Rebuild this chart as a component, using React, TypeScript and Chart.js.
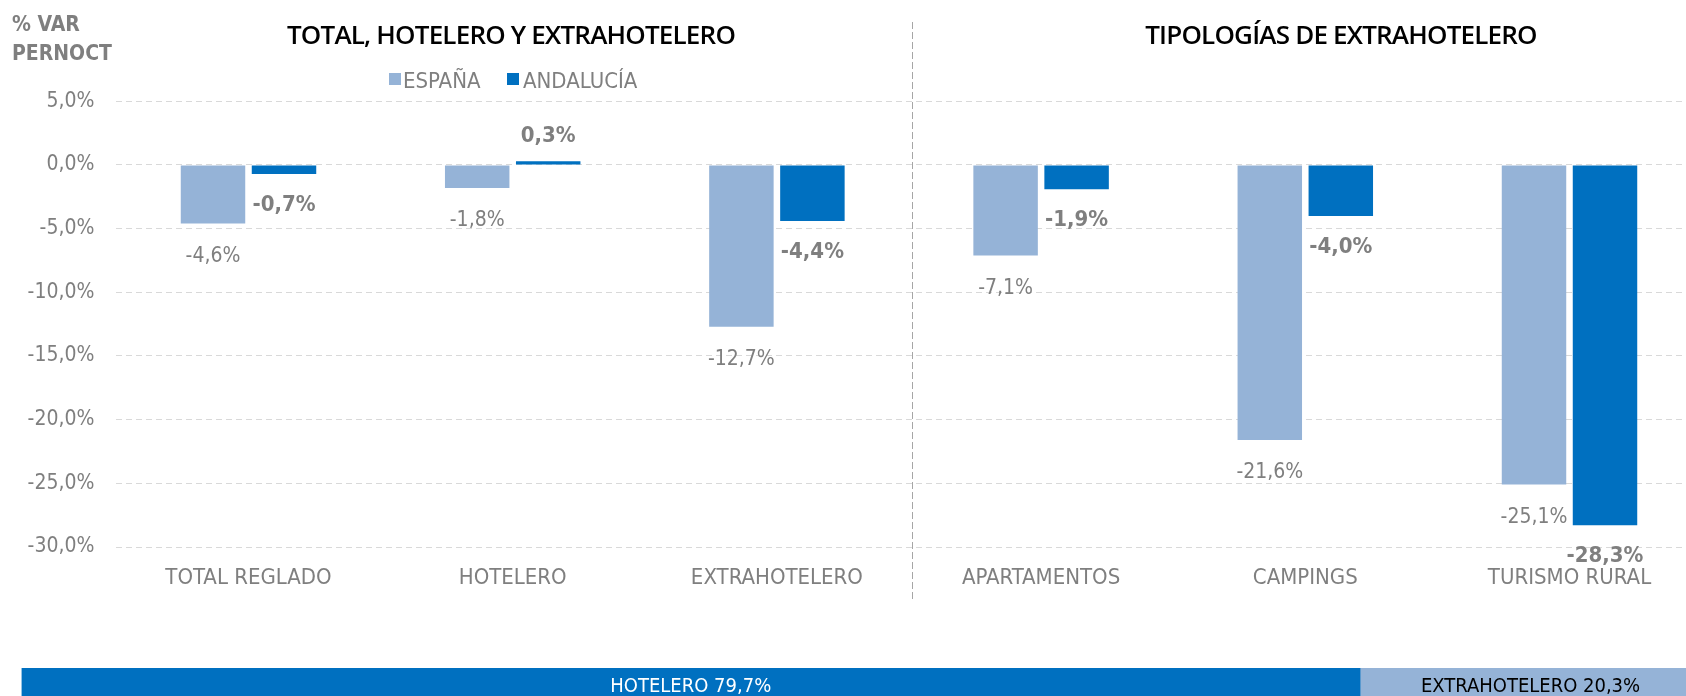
import React, { useEffect, useRef } from "react";
import { Chart, registerables } from "chart.js";

Chart.register(...registerables);

// ---------- DATA ----------
const categories = ["TOTAL REGLADO", "HOTELERO", "EXTRAHOTELERO", "APARTAMENTOS", "CAMPINGS", "TURISMO RURAL"];
const seriesNames = ["ESPAÑA", "ANDALUCÍA"];
const espana = [-4.6, -1.8, -12.7, -7.1, -21.6, -25.1];
const andalucia = [-0.7, 0.3, -4.4, -1.9, -4.0, -28.3];
const yMin = -30;
const yMax = 5;
const yStep = 5;
const groupTitles = ["TOTAL, HOTELERO Y EXTRAHOTELERO", "TIPOLOGÍAS DE EXTRAHOTELERO"];
const yAxisTitle = ["% VAR", "PERNOCT"];
const shareLabels = ["HOTELERO", "EXTRAHOTELERO"];
const shareValues = [79.7, 20.3];

// ---------- STYLE ----------
const C_ESP = "#95b3d7";
const C_AND = "#0070c0";
const GRAY = "#7f7f7f";
const NARROW = '"DejaVu Sans Condensed", "Liberation Sans Narrow", sans-serif';

const fmt = (v: number, d = 1) => v.toFixed(d).replace(".", ",") + "%";

export default function App() {
  const mainRef = useRef<HTMLCanvasElement>(null);
  const shareRef = useRef<HTMLCanvasElement>(null);

  useEffect(() => {
    const labelsPlugin = {
      id: "valueLabels",
      afterDatasetsDraw(chart: any) {
        const ctx = chart.ctx;
        ctx.save();
        ctx.textAlign = "center";
        ctx.textBaseline = "middle";
        chart.data.datasets.forEach((ds: any, di: number) => {
          const meta = chart.getDatasetMeta(di);
          meta.data.forEach((el: any, i: number) => {
            const v = ds.data[i] as number;
            ctx.font = di === 0 ? `21px ${NARROW}` : `bold 22px ${NARROW}`;
            ctx.fillStyle = GRAY;
            const y = v < 0 ? el.y + (di === 0 ? 33 : 31) : el.y - 25;
            ctx.fillText(fmt(v), el.x, y);
          });
        });
        ctx.restore();
      },
    };

    const separatorPlugin = {
      id: "separator",
      afterDraw(chart: any) {
        const xs = chart.scales.x;
        const x = Math.round((xs.getPixelForValue(2) + xs.getPixelForValue(3)) / 2 + 3) + 0.5;
        const ctx = chart.ctx;
        ctx.save();
        ctx.strokeStyle = "#a6a6a6";
        ctx.lineWidth = 1;
        ctx.setLineDash([7, 3]);
        ctx.beginPath();
        ctx.moveTo(x, 22);
        ctx.lineTo(x, 600);
        ctx.stroke();
        ctx.restore();
      },
    };

    const main = new Chart(mainRef.current!, {
      type: "bar",
      data: {
        labels: categories,
        datasets: [
          { label: seriesNames[0], data: espana, backgroundColor: C_ESP, barPercentage: 0.908, categoryPercentage: 0.5375 },
          { label: seriesNames[1], data: andalucia, backgroundColor: C_AND, barPercentage: 0.908, categoryPercentage: 0.5375 },
        ],
      },
      options: {
        responsive: false,
        animation: false,
        layout: { padding: { top: 101.3, left: 0, right: 18.4, bottom: 0 } },
        plugins: { legend: { display: false }, tooltip: { enabled: false }, title: { display: false } },
        scales: {
          x: {
            grid: { display: false, drawTicks: false },
            border: { display: false },
            ticks: { color: GRAY, font: { family: NARROW, size: 22 }, padding: 18, maxRotation: 0, autoSkip: false },
            afterFit: (s: any) => { s.height = 73; },
          },
          y: {
            min: yMin,
            max: yMax,
            grid: { color: "#d9d9d9", drawTicks: false, lineWidth: 1 },
            border: { display: false, dash: [6, 4] },
            ticks: {
              stepSize: yStep,
              color: GRAY,
              font: { family: NARROW, size: 21 },
              padding: 22,
              callback: (v: any) => fmt(Number(v)),
            },
            afterFit: (s: any) => { s.width = 116.4; },
          },
        },
      },
      plugins: [labelsPlugin, separatorPlugin],
    });

    const shareLabelPlugin = {
      id: "shareLabels",
      afterDatasetsDraw(chart: any) {
        const ctx = chart.ctx;
        ctx.save();
        ctx.textAlign = "center";
        ctx.textBaseline = "middle";
        ctx.font = `20px ${NARROW}`;
        chart.data.datasets.forEach((ds: any, di: number) => {
          const el = chart.getDatasetMeta(di).data[0] as any;
          ctx.fillStyle = di === 0 ? "#ffffff" : "#000000";
          ctx.fillText(`${shareLabels[di]} ${fmt(ds.data[0])}`, (el.x + el.base) / 2, el.y);
        });
        ctx.restore();
      },
    };

    const share = new Chart(shareRef.current!, {
      type: "bar",
      data: {
        labels: ["share"],
        datasets: [
          { label: shareLabels[0], data: [shareValues[0]], backgroundColor: C_AND, barPercentage: 1, categoryPercentage: 1 },
          { label: shareLabels[1], data: [shareValues[1]], backgroundColor: C_ESP, barPercentage: 1, categoryPercentage: 1 },
        ],
      },
      options: {
        indexAxis: "y",
        responsive: false,
        animation: false,
        layout: { padding: { left: 21.5, right: 19, top: 0, bottom: 0 } },
        plugins: { legend: { display: false }, tooltip: { enabled: false } },
        scales: {
          x: { stacked: true, min: 0, max: 100, display: false },
          y: { stacked: true, display: false },
        },
      },
      plugins: [shareLabelPlugin],
    });

    return () => {
      main.destroy();
      share.destroy();
    };
  }, []);

  const narrowText: React.CSSProperties = { position: "absolute", fontFamily: NARROW, color: GRAY, whiteSpace: "nowrap", lineHeight: 1 };
  const titleStyle: React.CSSProperties = {
    position: "absolute",
    fontFamily: '"Open Sans", sans-serif',
    fontWeight: 600,
    fontSize: 26,
    letterSpacing: -0.8,
    color: "#000",
    whiteSpace: "nowrap",
    lineHeight: 1,
    transform: "translate(-50%, -50%)",
  };

  return (
    <div style={{ position: "fixed", left: 0, top: 0, width: 1686, height: 696, overflow: "hidden", background: "#fff" }}>
      <canvas ref={mainRef} width={1720} height={620} style={{ position: "absolute", left: 0, top: 0 }} />
      <canvas ref={shareRef} width={1720} height={38} style={{ position: "absolute", left: 0, top: 668 }} />
      <div style={{ ...narrowText, left: 12, top: 10, fontWeight: 700, fontSize: 21, lineHeight: "29px" }}>
        {yAxisTitle[0]}
        <br />
        {yAxisTitle[1]}
      </div>
      <div style={{ ...titleStyle, left: 511, top: 34 }}>{groupTitles[0]}</div>
      <div style={{ ...titleStyle, left: 1341, top: 34 }}>{groupTitles[1]}</div>
      <div style={{ position: "absolute", left: 389, top: 73, width: 12, height: 12, background: C_ESP }} />
      <div style={{ ...narrowText, left: 403, top: 70, fontSize: 22 }}>{seriesNames[0]}</div>
      <div style={{ position: "absolute", left: 507, top: 73, width: 12, height: 12, background: C_AND }} />
      <div style={{ ...narrowText, left: 523, top: 70, fontSize: 22 }}>{seriesNames[1]}</div>
    </div>
  );
}
